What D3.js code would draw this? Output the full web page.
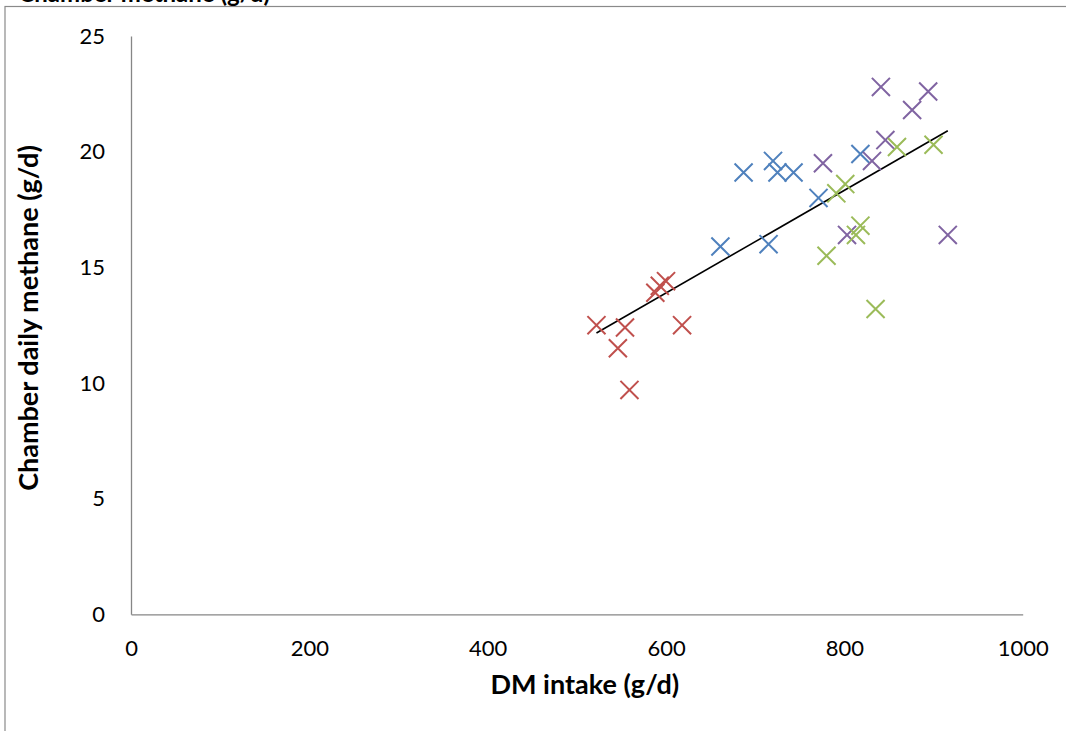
<!DOCTYPE html>
<html>
<head>
<meta charset="utf-8">
<script src="https://cdn.jsdelivr.net/npm/d3@7"></script>
<style>
  body { margin: 0; background: #fff; }
  svg { display: block; font-family: Lato, 'Open Sans', sans-serif; }
  .axis path { stroke: #868686; stroke-width: 1.3; }
  .axis text { font-size: 22px; fill: #000; font-family: Lato, sans-serif; }
  .axis-title { font-size: 27px; font-weight: bold; }
</style>
</head>
<body>
<div id="chart-area"></div>
<script>
// DM intake (g/d) and chamber methane (g/d), one pair of arrays per group
const redIntake = [522, 554, 546, 559, 618, 588, 593, 600];
const redMethane = [12.5, 12.4, 11.5, 9.7, 12.5, 13.9, 14.2, 14.4];

const blueIntake = [687, 720, 725, 743, 771, 661, 715, 818];
const blueMethane = [19.1, 19.6, 19.1, 19.1, 18.0, 15.9, 16.0, 19.9];

const purpleIntake = [841, 894, 876, 846, 776, 831, 803, 916];
const purpleMethane = [22.8, 22.6, 21.8, 20.5, 19.5, 19.6, 16.4, 16.4];

const greenIntake = [859, 900, 801, 791, 818, 813, 780, 835];
const greenMethane = [20.2, 20.3, 18.6, 18.2, 16.8, 16.4, 15.5, 13.2];

const xTicks = [0, 200, 400, 600, 800, 1000];
const yTicks = [0, 5, 10, 15, 20, 25];

const groups = [
  { color: '#C0504D', intake: redIntake, methane: redMethane },
  { color: '#4F81BD', intake: blueIntake, methane: blueMethane },
  { color: '#8064A2', intake: purpleIntake, methane: purpleMethane },
  { color: '#9BBB59', intake: greenIntake, methane: greenMethane },
];

const width = 1066;
const height = 731;
const margin = { top: 36, right: 43.3, bottom: 116.7, left: 131 };
const innerWidth = width - margin.left - margin.right;
const innerHeight = height - margin.top - margin.bottom;

const points = groups.flatMap((g) =>
  g.intake.map((x, i) => ({ x, y: g.methane[i], color: g.color }))
);

const svg = d3.select('#chart-area')
  .append('svg')
  .attr('width', width)
  .attr('height', height);

// chart frame (only top and left edges fall inside the page)
svg.append('rect')
  .attr('x', 5)
  .attr('y', 6.5)
  .attr('width', width + 20)
  .attr('height', height + 20)
  .attr('fill', 'none')
  .attr('stroke', '#8a8a8a')
  .attr('stroke-width', 1.2);

// title sits mostly above the page edge
svg.append('text')
  .attr('x', 270)
  .attr('y', 1.5)
  .attr('text-anchor', 'end')
  .attr('font-size', 24)
  .attr('font-weight', 'bold')
  .text('Chamber methane (g/d)');

const gRoot = svg.append('g')
  .attr('transform', `translate(${margin.left}, ${margin.top})`);

const xScale = d3.scaleLinear().domain([0, 1000]).range([0, innerWidth]);
const yScale = d3.scaleLinear().domain([0, 25]).range([innerHeight, 0]);

gRoot.append('g')
  .attr('class', 'axis')
  .attr('transform', `translate(0, ${innerHeight})`)
  .call(d3.axisBottom(xScale).tickValues(xTicks).tickFormat(d3.format('d'))
    .tickSize(0).tickPadding(26));

gRoot.append('g')
  .attr('class', 'axis')
  .call(d3.axisLeft(yScale).tickValues(yTicks).tickFormat(d3.format('d'))
    .tickSize(0).tickPadding(26));

// axis titles
gRoot.append('text')
  .attr('class', 'axis-title')
  .attr('x', innerWidth / 2 + 8)
  .attr('y', innerHeight + 80)
  .attr('text-anchor', 'middle')
  .text('DM intake (g/d)');

gRoot.append('text')
  .attr('class', 'axis-title')
  .attr('x', -282)
  .attr('y', -93)
  .attr('text-anchor', 'middle')
  .attr('transform', 'rotate(-90)')
  .text('Chamber daily methane (g/d)');

// linear trendline over all points
const meanX = d3.mean(points, (d) => d.x);
const meanY = d3.mean(points, (d) => d.y);
const slope = d3.sum(points, (d) => (d.x - meanX) * (d.y - meanY)) /
  d3.sum(points, (d) => (d.x - meanX) ** 2);
const intercept = meanY - slope * meanX;
const xExtent = d3.extent(points, (d) => d.x);

gRoot.append('path')
  .datum(xExtent.map((x) => [x, intercept + slope * x]))
  .attr('fill', 'none')
  .attr('stroke', '#000')
  .attr('stroke-width', 1.6)
  .attr('d', d3.line().x((d) => xScale(d[0])).y((d) => yScale(d[1])));

const marker = d3.symbol(d3.symbolTimes).size(215);

gRoot.selectAll('.point')
  .data(points)
  .enter()
  .append('path')
  .attr('class', 'point')
  .attr('transform', (d) => `translate(${xScale(d.x)}, ${yScale(d.y)})`)
  .attr('d', marker)
  .attr('fill', 'none')
  .attr('stroke', (d) => d.color)
  .attr('stroke-width', 2);
</script>
</body>
</html>
